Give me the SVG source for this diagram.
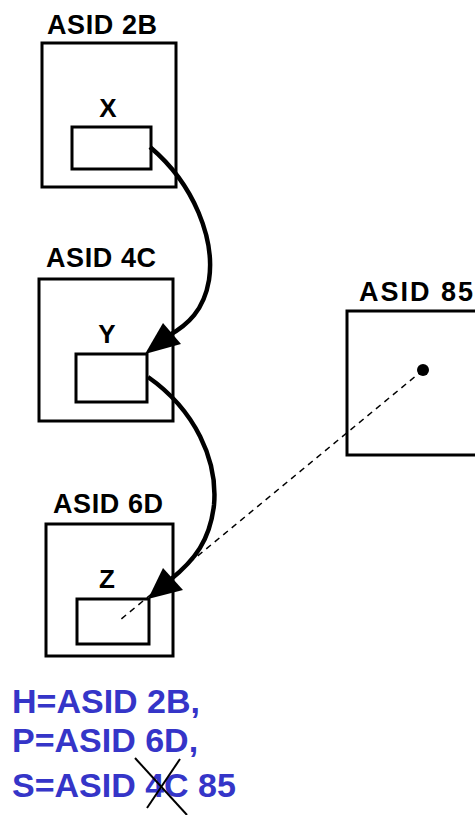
<svg xmlns="http://www.w3.org/2000/svg" width="475" height="815" viewBox="0 0 475 815">
<style>
.box{fill:none;stroke:#000;stroke-width:3}
.lbl{font-family:"Liberation Sans",Arial,sans-serif;font-weight:bold;font-size:27px;fill:#000}
.var{font-family:"Liberation Sans",Arial,sans-serif;font-weight:bold;font-size:26px;fill:#000;text-anchor:middle}
.curve{fill:none;stroke:#000;stroke-width:4.5}
.note{font-family:"Liberation Sans",Arial,sans-serif;font-weight:bold;font-size:34px;fill:#3535C8}
</style>
<rect width="475" height="815" fill="#fff"/>
<g id="asid2b">
<text class="lbl" x="47" y="34" textLength="110">ASID 2B</text>
<rect class="box" x="42" y="43" width="134" height="144"/>
<text class="var" x="108" y="117">X</text>
<rect class="box" x="72" y="127" width="79" height="42"/>
</g>
<g id="asid4c">
<text class="lbl" x="46" y="267" textLength="110">ASID 4C</text>
<rect class="box" x="39" y="279" width="134" height="142"/>
<text class="var" x="107" y="343">Y</text>
<rect class="box" x="76" y="354" width="71" height="48"/>
</g>
<g id="asid6d">
<text class="lbl" x="53" y="513" textLength="110">ASID 6D</text>
<rect class="box" x="46" y="524" width="127" height="132"/>
<text class="var" x="107" y="588">Z</text>
<rect class="box" x="77" y="599" width="72" height="45"/>
</g>
<g id="asid85">
<text class="lbl" x="359" y="301" textLength="114">ASID 85</text>
<rect class="box" x="347" y="311" width="140" height="144"/>
<circle cx="423" cy="370" r="6" fill="#000"/>
</g>
<g id="connectors">
<path class="curve" d="M150,147 C195,185 215,240 209,280 C204,310 188,325 168,336"/>
<polygon points="145,354 163,323 181,344" fill="#000"/>
<path class="curve" d="M148,377 C195,410 218,460 214,505 C210,540 195,560 170,580"/>
<polygon points="148,599 163,568 183,590" fill="#000"/>
<line x1="423" y1="370" x2="120" y2="620" stroke="#000" stroke-width="1.5" stroke-dasharray="6,5"/>
</g>
<g id="note">
<text class="note" x="12" y="713">H=ASID 2B,</text>
<text class="note" x="12" y="752">P=ASID 6D,</text>
<text class="note" x="12" y="797">S=ASID 4C 85</text>
<line x1="135" y1="758" x2="187" y2="815" stroke="#000" stroke-width="2"/>
<line x1="180" y1="759" x2="147" y2="808" stroke="#000" stroke-width="2"/>
</g>
</svg>
